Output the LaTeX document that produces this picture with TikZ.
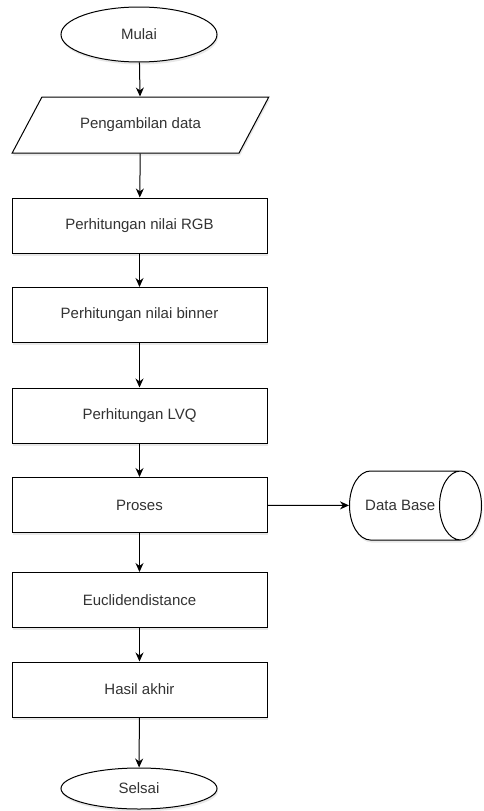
\documentclass[tikz,border=0pt]{standalone}
\usepackage{fontspec}
\setmainfont{Liberation Sans}
\usetikzlibrary{positioning,shapes.geometric,arrows.meta,shadows}
\definecolor{txtgray}{HTML}{333333}

\begin{document}
\begin{tikzpicture}[x=1pt,y=-1pt,
  every node/.style={font=\fontsize{15}{18}\selectfont,text=txtgray,line width=1pt,fill=white},
  shade/.style={drop shadow={opacity=0.18,shadow xshift=1pt,shadow yshift=-2.5pt}},
  stepbox/.style={draw,rectangle,minimum width=255pt,minimum height=55pt,shade},
  term/.style={draw,ellipse,minimum width=156pt,minimum height=55pt,shade},
  io/.style={draw,trapezium,trapezium left angle=47,trapezium right angle=133,
             trapezium stretches=true,minimum width=257pt,minimum height=56pt,shade},
  store/.style={draw,cylinder,aspect=2.45,minimum width=69pt,minimum height=132pt,
                anchor=shape center,shade},
  arr/.style={-{Stealth[length=9pt,width=8pt]},line width=1pt}]
 \useasboundingbox (0,0) rectangle (483,811);

 \node[term,    name=Mulai ] at (139,34.5)  {Mulai};
 \node[io,      name=Ambil ] at (140.5,125) {Pengambilan data};
 \node[stepbox, name=RGB   ] at (139.5,225.5) {Perhitungan nilai RGB};
 \node[stepbox, name=Binner] at (139.5,315) {Perhitungan nilai binner};
 \node[stepbox, name=LVQ   ] at (139.5,415.5) {Perhitungan LVQ};
 \node[stepbox, name=Proses] at (139.5,505) {Proses};
 \node[stepbox, name=Euclid] at (139.5,600) {Euclidendistance};
 \node[stepbox, name=Hasil ] at (139.5,689.5) {Hasil akhir};
 \node[term,    name=Selsai,minimum width=156pt,minimum height=41pt] at (139,788.5) {Selsai};
 \node[store,   name=DB    ] at (415.5,505.5) {Data Base};

 \draw[arr] (Mulai)  -- (Ambil);
 \draw[arr] (Ambil)  -- (RGB);
 \draw[arr] (RGB)    -- (Binner);
 \draw[arr] (Binner) -- (LVQ);
 \draw[arr] (LVQ)    -- (Proses);
 \draw[arr] (Proses) -- (Euclid);
 \draw[arr] (Euclid) -- (Hasil);
 \draw[arr] (Hasil)  -- (Selsai);
 \draw[arr] (Proses) -- (DB);
\end{tikzpicture}
\end{document}
